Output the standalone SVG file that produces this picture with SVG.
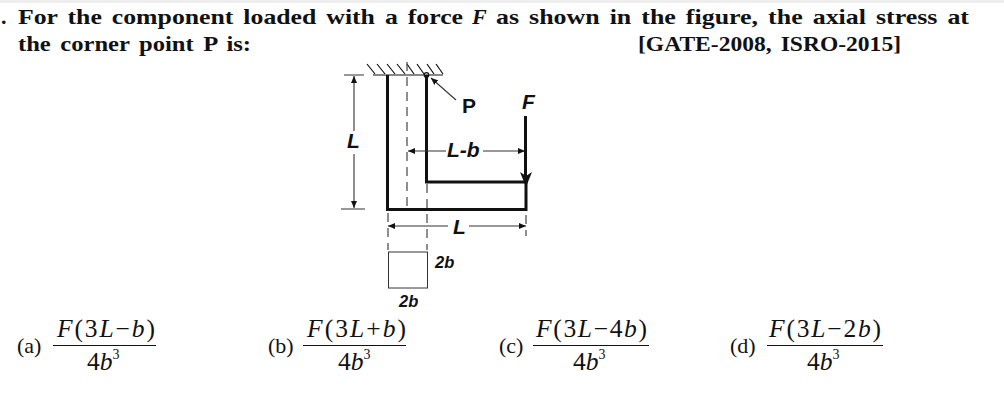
<svg xmlns="http://www.w3.org/2000/svg" width="1004" height="404" viewBox="0 0 1004 404">
<style>
.q{font:bold 22px "Liberation Serif",serif;fill:#111;word-spacing:3px}
.m{font:25.5px "Liberation Serif",serif;fill:#111}
.o{font:22px "Liberation Serif",serif;fill:#111}
.i{font-style:italic}
.s{font-size:14px}
.l{font:italic bold 21px "Liberation Sans",sans-serif;fill:#111}
.l2{font:italic bold 16.5px "Liberation Sans",sans-serif;fill:#111}
.b{fill:none;stroke:#111;stroke-width:3}
.t{fill:none;stroke:#333;stroke-width:1.1}
.d{fill:none;stroke:#444;stroke-width:1.2;stroke-dasharray:9 6}
.f{stroke:#111;stroke-width:1.2}
</style>
<defs>
<marker id="a" markerWidth="8" markerHeight="6" refX="7" refY="3" orient="auto-start-reverse" markerUnits="userSpaceOnUse"><path d="M0 0L7 3L0 6Z" fill="#111"/></marker>
</defs>
<rect width="1004" height="404" fill="#fff"/>
<rect width="1004" height="3" fill="#eee"/>
<g id="question">
<text class="q" x="1" y="24">.</text>
<text class="q" x="18" y="24" textLength="445" lengthAdjust="spacingAndGlyphs">For the component loaded with a force</text>
<text class="q i" x="472" y="24">F</text>
<text class="q" x="496" y="24" textLength="473" lengthAdjust="spacingAndGlyphs">as shown in the figure, the axial stress at</text>
<text class="q" x="18" y="51" textLength="233" lengthAdjust="spacingAndGlyphs">the corner point P is:</text>
<text class="q" x="638" y="51" textLength="263" lengthAdjust="spacingAndGlyphs">[GATE-2008, ISRO-2015]</text>
</g>
<g id="support">
<path class="f" d="M373 75H443"/>
<path class="f" d="M367 64L375 74M377 64L385 74M387 64L395 74M397 64L405 74M407 64L414 74M417 64L424 74M427 64L434 74M436 64L443 74"/>
</g>
<g id="component">
<path class="b" d="M387.500 75V209.500H526V182H426.500V75"/>
<circle cx="426.500" cy="75" r="2.300" fill="none" stroke="#111" stroke-width="1.200"/>
</g>
<g id="connectors">
<path class="d" d="M407 62V212"/>
<path class="d" d="M388 213V250M427 184V250M526 215V236" stroke-dasharray="7 4"/>
<path class="t" d="M344 75H364M341 209H365"/>
<path class="t" d="M354 76V131" marker-start="url(#a)"/>
<path class="t" d="M354 154V208" marker-end="url(#a)"/>
<path class="t" d="M408 151H446" marker-start="url(#a)"/>
<path class="t" d="M483 151H525" marker-end="url(#a)"/>
<path class="t" d="M388 226H448" marker-start="url(#a)"/>
<path class="t" d="M469 226H526" marker-end="url(#a)"/>
<path class="t" d="M456 100L431 78" marker-end="url(#a)"/>
<path d="M525.500 116V176" stroke="#111" stroke-width="3" fill="none"/>
<path d="M520 172L526 187L532 172L526 176Z" fill="#111"/>
</g>
<g id="section">
<rect x="388.500" y="252" width="39" height="36" fill="#fff" stroke="#333" stroke-width="1"/>
</g>
<g id="labels">
<text class="l" x="462" y="113" style="font-style:normal">P</text>
<text class="l" x="522" y="109">F</text>
<text class="l" x="347" y="148">L</text>
<text class="l" x="447" y="157">L-b</text>
<text class="l" x="453" y="234">L</text>
<text class="l2" x="435" y="268">2b</text>
<text class="l2" x="399" y="307">2b</text>
</g>
<g id="options">
<text class="o" x="17" y="353">(a)</text>
<text class="m" x="57" y="337" textLength="98" lengthAdjust="spacing"><tspan class="i">F</tspan>(3<tspan class="i">L</tspan>−<tspan class="i">b</tspan>)</text>
<path class="f" d="M53 345.500H156"/>
<text class="m" x="87" y="370">4<tspan class="i">b</tspan><tspan class="s" dy="-11">3</tspan></text>
<text class="o" x="268" y="353">(b)</text>
<text class="m" x="307" y="337" textLength="99" lengthAdjust="spacing"><tspan class="i">F</tspan>(3<tspan class="i">L</tspan>+<tspan class="i">b</tspan>)</text>
<path class="f" d="M303 345.500H406"/>
<text class="m" x="338" y="370">4<tspan class="i">b</tspan><tspan class="s" dy="-11">3</tspan></text>
<text class="o" x="499" y="353">(c)</text>
<text class="m" x="536" y="337" textLength="111" lengthAdjust="spacing"><tspan class="i">F</tspan>(3<tspan class="i">L</tspan>−4<tspan class="i">b</tspan>)</text>
<path class="f" d="M533 345.500H649"/>
<text class="m" x="573" y="370">4<tspan class="i">b</tspan><tspan class="s" dy="-11">3</tspan></text>
<text class="o" x="730" y="353">(d)</text>
<text class="m" x="769" y="337" textLength="112" lengthAdjust="spacing"><tspan class="i">F</tspan>(3<tspan class="i">L</tspan>−2<tspan class="i">b</tspan>)</text>
<path class="f" d="M767 345.500H883"/>
<text class="m" x="807" y="370">4<tspan class="i">b</tspan><tspan class="s" dy="-11">3</tspan></text>
</g>
</svg>
